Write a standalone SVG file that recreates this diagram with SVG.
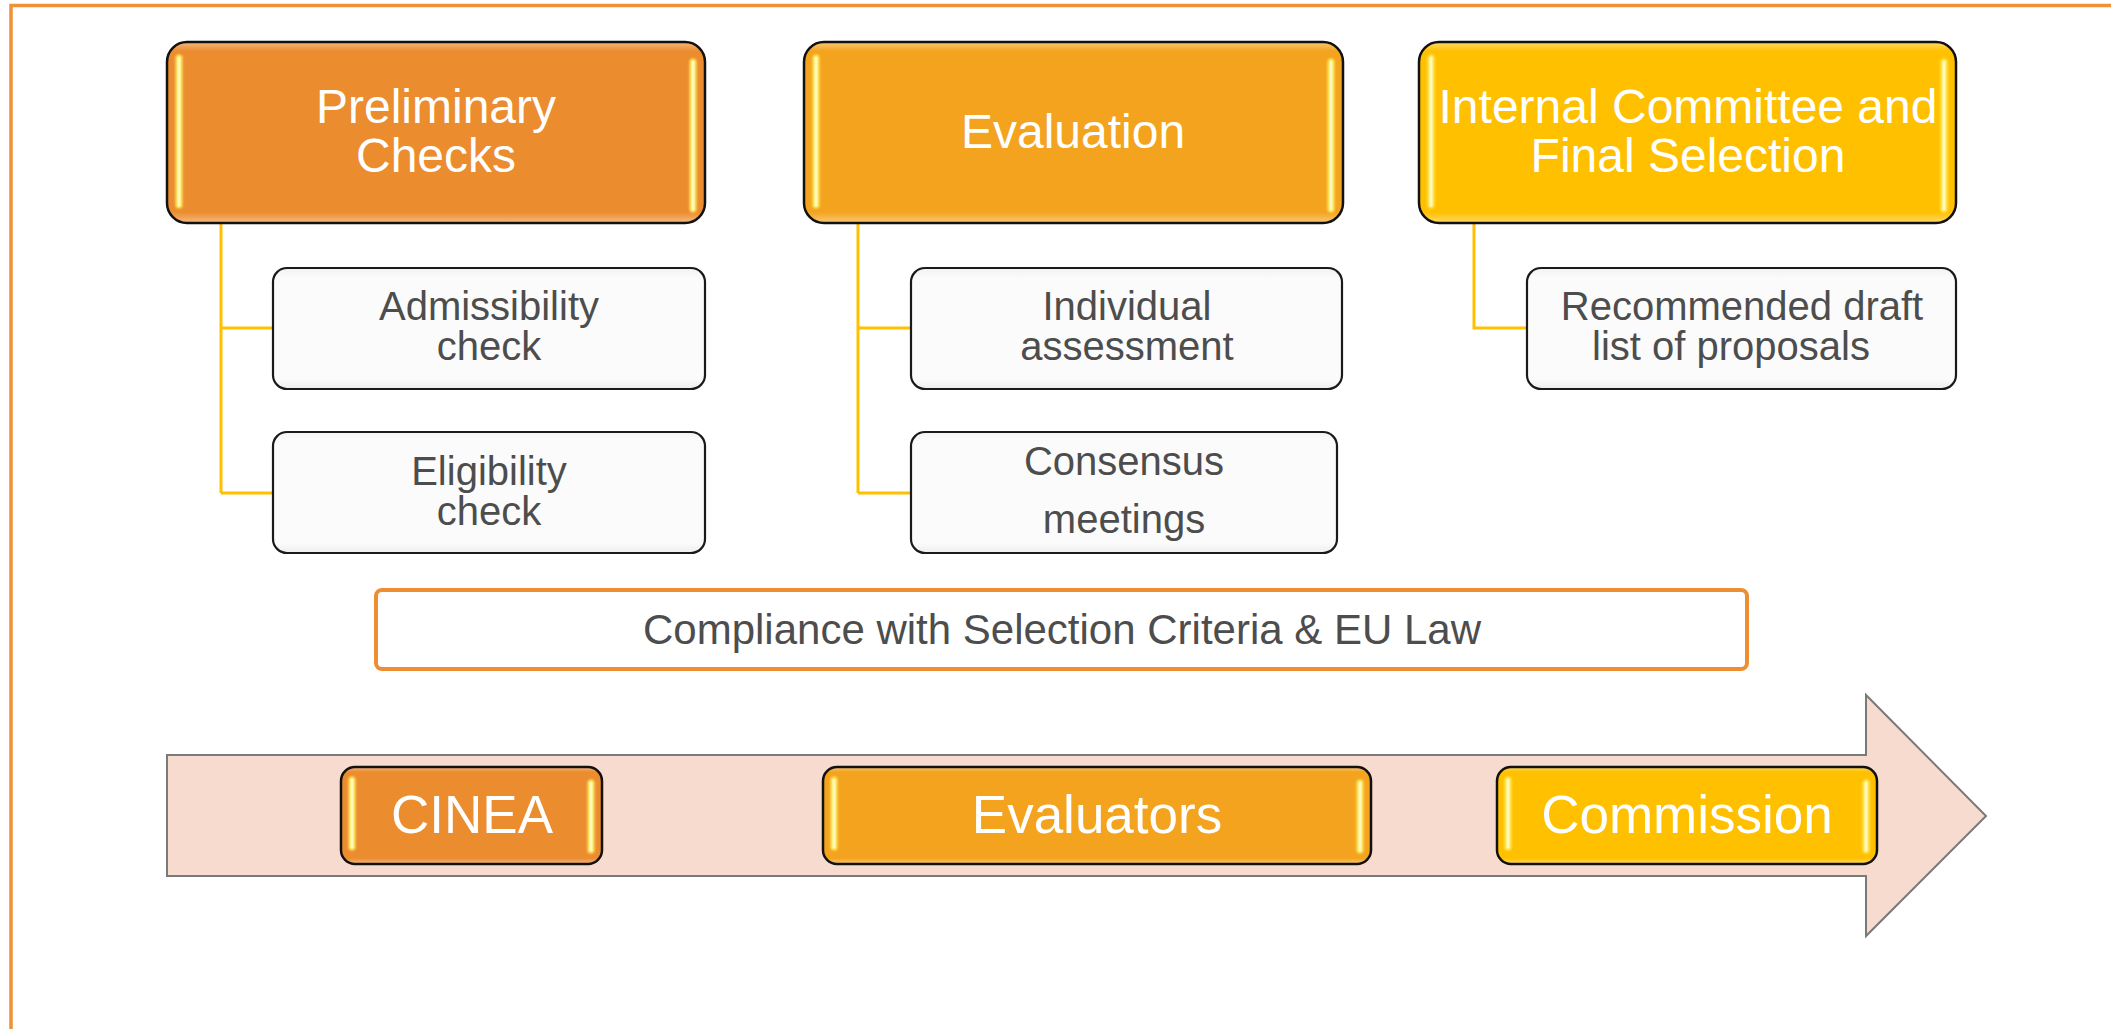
<svg xmlns="http://www.w3.org/2000/svg" width="2111" height="1029" viewBox="0 0 2111 1029">
<defs>
<linearGradient id="gOrange" x1="0" y1="0" x2="0" y2="1">
<stop offset="0" stop-color="#F6BA80"/><stop offset="0.05" stop-color="#EB8C2F"/><stop offset="0.94" stop-color="#EB8C2F"/><stop offset="1" stop-color="#F6BA80"/>
</linearGradient>
<linearGradient id="gAmber" x1="0" y1="0" x2="0" y2="1">
<stop offset="0" stop-color="#F9C978"/><stop offset="0.05" stop-color="#F3A31D"/><stop offset="0.94" stop-color="#F3A31D"/><stop offset="1" stop-color="#F9C978"/>
</linearGradient>
<linearGradient id="gYellow" x1="0" y1="0" x2="0" y2="1">
<stop offset="0" stop-color="#FFDA6A"/><stop offset="0.05" stop-color="#FFC000"/><stop offset="0.94" stop-color="#FFC000"/><stop offset="1" stop-color="#FFDA6A"/>
</linearGradient>
<linearGradient id="gSub" x1="0" y1="0" x2="0" y2="1">
<stop offset="0" stop-color="#F2F2F2"/><stop offset="0.08" stop-color="#FBFBFB"/><stop offset="0.92" stop-color="#FBFBFB"/><stop offset="1" stop-color="#EDEDED"/>
</linearGradient>
<filter id="glow" filterUnits="userSpaceOnUse" x="0" y="0" width="2111" height="1029"><feGaussianBlur stdDeviation="1.2"/></filter>
<style>
.hdr{stroke:#111;stroke-width:2.5}
.sub{fill:url(#gSub);stroke:#1A1A1A;stroke-width:2.2}
.ft{font-family:"Liberation Sans",Arial,sans-serif;text-anchor:middle}
.t1{fill:#FFFFFF;font-size:48px}
.t2{fill:#4D4D4D;font-size:40px}
.t3{fill:#FFFFFF;font-size:53px}
.conn{stroke:#FFC000;stroke-width:3;fill:none}
.bar{stroke:#FFEA60;stroke-width:7;stroke-linecap:round;filter:url(#glow)}
.barc{stroke:#FFF9B8;stroke-width:3;stroke-linecap:round}
</style>
</defs>
<rect width="2111" height="1029" fill="#FFFFFF"/>
<path d="M11,1029 V5.5 H2111" fill="none" stroke="#F0913A" stroke-width="3.5"/>

<g id="connectors">
<path class="conn" d="M221,223 V493 M221,328 H273 M221,493 H273"/>
<path class="conn" d="M858,223 V493 M858,328 H911 M858,493 H911"/>
<path class="conn" d="M1474,223 V328 H1527"/>
</g>

<g id="node-preliminary">
<rect class="hdr" x="167" y="42" width="538" height="181" rx="20" fill="url(#gOrange)"/>
<line class="bar" x1="179" y1="58" x2="179" y2="205"/><line class="barc" x1="179" y1="58" x2="179" y2="205"/>
<line class="bar" x1="693" y1="62" x2="693" y2="209"/><line class="barc" x1="693" y1="62" x2="693" y2="209"/>
<text class="ft t1" x="436" y="123">Preliminary</text>
<text class="ft t1" x="436" y="172">Checks</text>
</g>

<g id="node-evaluation">
<rect class="hdr" x="804" y="42" width="539" height="181" rx="20" fill="url(#gAmber)"/>
<line class="bar" x1="816" y1="58" x2="816" y2="205"/><line class="barc" x1="816" y1="58" x2="816" y2="205"/>
<line class="bar" x1="1331" y1="62" x2="1331" y2="209"/><line class="barc" x1="1331" y1="62" x2="1331" y2="209"/>
<text class="ft t1" x="1073" y="148">Evaluation</text>
</g>

<g id="node-internal">
<rect class="hdr" x="1419" y="42" width="537" height="181" rx="20" fill="url(#gYellow)"/>
<line class="bar" x1="1431" y1="58" x2="1431" y2="205"/><line class="barc" x1="1431" y1="58" x2="1431" y2="205"/>
<line class="bar" x1="1944" y1="62" x2="1944" y2="209"/><line class="barc" x1="1944" y1="62" x2="1944" y2="209"/>
<text class="ft t1" x="1688" y="123">Internal Committee and</text>
<text class="ft t1" x="1688" y="172">Final Selection</text>
</g>

<g id="node-admissibility">
<rect class="sub" x="273" y="268" width="432" height="121" rx="14"/>
<text class="ft t2" x="489" y="320">Admissibility</text>
<text class="ft t2" x="489" y="360">check</text>
</g>

<g id="node-eligibility">
<rect class="sub" x="273" y="432" width="432" height="121" rx="14"/>
<text class="ft t2" x="489" y="485">Eligibility</text>
<text class="ft t2" x="489" y="525">check</text>
</g>

<g id="node-individual">
<rect class="sub" x="911" y="268" width="431" height="121" rx="14"/>
<text class="ft t2" x="1127" y="320">Individual</text>
<text class="ft t2" x="1127" y="360">assessment</text>
</g>

<g id="node-consensus">
<rect class="sub" x="911" y="432" width="426" height="121" rx="14"/>
<text class="ft t2" x="1124" y="475">Consensus</text>
<text class="ft t2" x="1124" y="533">meetings</text>
</g>

<g id="node-recommended">
<rect class="sub" x="1527" y="268" width="429" height="121" rx="14"/>
<text class="ft t2" x="1742" y="320">Recommended draft</text>
<text class="ft t2" x="1731" y="360">list of proposals</text>
</g>

<g id="node-compliance">
<rect x="376" y="590" width="1371" height="79" rx="6" fill="#FFFFFF" stroke="#EE8E33" stroke-width="4"/>
<text class="ft" x="1062" y="644" font-size="42" fill="#4D4D4D">Compliance with Selection Criteria &amp; EU Law</text>
</g>

<g id="node-arrow">
<polygon points="167,755 1866,755 1866,695 1986,816 1866,936 1866,876 167,876" fill="#F7DBCE" stroke="#7A7A7A" stroke-width="2"/>
</g>

<g id="node-cinea">
<rect class="hdr" x="341" y="767" width="261" height="97" rx="14" fill="url(#gOrange)"/>
<line class="bar" x1="352" y1="780" x2="352" y2="847"/><line class="barc" x1="352" y1="780" x2="352" y2="847"/>
<line class="bar" x1="591" y1="783" x2="591" y2="850"/><line class="barc" x1="591" y1="783" x2="591" y2="850"/>
<text class="ft t3" x="472" y="833">CINEA</text>
</g>

<g id="node-evaluators">
<rect class="hdr" x="823" y="767" width="548" height="97" rx="14" fill="url(#gAmber)"/>
<line class="bar" x1="834" y1="780" x2="834" y2="847"/><line class="barc" x1="834" y1="780" x2="834" y2="847"/>
<line class="bar" x1="1360" y1="783" x2="1360" y2="850"/><line class="barc" x1="1360" y1="783" x2="1360" y2="850"/>
<text class="ft t3" x="1097" y="833">Evaluators</text>
</g>

<g id="node-commission">
<rect class="hdr" x="1497" y="767" width="380" height="97" rx="14" fill="url(#gYellow)"/>
<line class="bar" x1="1508" y1="780" x2="1508" y2="847"/><line class="barc" x1="1508" y1="780" x2="1508" y2="847"/>
<line class="bar" x1="1866" y1="783" x2="1866" y2="850"/><line class="barc" x1="1866" y1="783" x2="1866" y2="850"/>
<text class="ft t3" x="1687" y="833">Commission</text>
</g>
</svg>
